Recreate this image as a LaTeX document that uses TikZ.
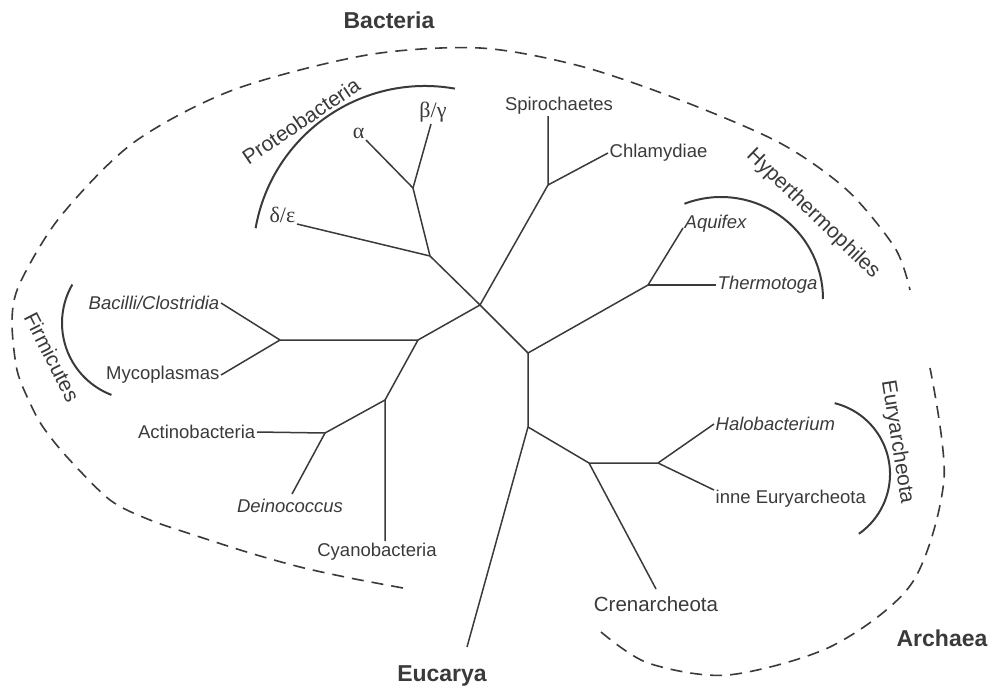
\documentclass[tikz,border=0pt]{standalone}
\usepackage{fontspec}
\setmainfont{Liberation Sans}
\newfontfamily\greekfont{Liberation Serif}
\usepackage{tikz}

\definecolor{ink}{HTML}{3A3A3A}

\tikzset{
  branch/.style={draw=ink, line width=1.5pt},
  clade/.style={draw=ink, line width=2pt},
  kingdomline/.style={draw=ink, line width=1.6pt, dash pattern=on 12pt off 8pt},
  taxon/.style={text=ink, inner sep=1.5pt, font=\fontsize{18.5}{20}\selectfont},
  genus/.style={taxon, font=\fontsize{18.5}{20}\selectfont\itshape},
  greek/.style={taxon, font=\fontsize{22}{24}\selectfont\greekfont},
  group/.style={text=ink, inner sep=0pt, font=\fontsize{21}{24}\selectfont},
  kingdom/.style={text=ink, font=\fontsize{23}{26}\selectfont\bfseries}
}

\begin{document}
\begin{tikzpicture}[x=1pt, y=-1pt]
\useasboundingbox (0,0) rectangle (995,691);

\coordinate (root) at (480,305);
\coordinate (prot) at (430,256);
\coordinate (ab) at (413,188);
\coordinate (spiro) at (548,185);
\coordinate (mid) at (528,353);
\coordinate (hyper) at (648,285);
\coordinate (arch) at (528,427);
\coordinate (crj) at (589,463);
\coordinate (eur) at (658,463);
\coordinate (gram) at (418,340);
\coordinate (firm) at (280,340);
\coordinate (cyan) at (385,400);
\coordinate (actj) at (325,433);
\coordinate (eucend) at (467,647);

\draw[kingdomline] plot[smooth] coordinates {(403,588) (350,578) (300,567) (250,553) (200,537) (150,520) (110,500) (67,457) (43,427) (30,403) (17,370) (12,320) (20,283) (60,217) (133,143) (233,90) (367,55) (480,48) (580,66) (680,100) (780,143) (847,190) (895,248) (910,290)};
\draw[kingdomline] plot[smooth] coordinates {(601,632) (648,663) (728,675) (832,646) (912,583) (944,479) (930,368)};

\draw[clade] (425,258) ++(190:172) arc[start angle=190, end angle=280, radius=172];
\draw[clade] (721,299) ++(249:102) arc[start angle=249, end angle=360, radius=102];
\draw[clade] (139,323) ++(210:77) arc[start angle=210, end angle=111, radius=77];
\draw[clade] (817,474) ++(-76:73) arc[start angle=-76, end angle=55, radius=73];

\node[greek, anchor=south east] (alpha) at (366,140) {α};
\node[greek, anchor=south] (betagamma) at (433,124) {β/γ};
\node[greek, anchor=south east] (deltaeps) at (297,224) {δ/ε};
\node[taxon, anchor=south] (spirochaetes) at (559,116) {Spirochaetes};
\node[taxon, anchor=west] (chlamydiae) at (608,153) {Chlamydiae};
\node[genus, anchor=base west] (aquifex) at (683,228) {Aquifex};
\node[genus, anchor=west] (thermotoga) at (716,285) {Thermotoga};
\node[genus, anchor=east] (bacilli) at (221,303) {Bacilli/Clostridia};
\node[taxon, anchor=east] (mycoplasmas) at (221,375) {Mycoplasmas};
\node[taxon, anchor=east] (actino) at (257,432) {Actinobacteria};
\node[genus, anchor=north] (deino) at (290,497) {Deinococcus};
\node[taxon, anchor=north] (cyano) at (377,541) {Cyanobacteria};
\node[genus, anchor=west] (halo) at (714,424) {Halobacterium};
\node[taxon, anchor=base west] (inne) at (714,503) {inne Euryarcheota};
\node[taxon, anchor=north, font=\fontsize{20.5}{22}\selectfont] (cren) at (656,595) {Crenarcheota};

\draw[branch] (root) -- (prot) -- (ab) -- (alpha.south east);
\draw[branch] (ab) -- ([xshift=-2pt]betagamma.south);
\draw[branch] (prot) -- (deltaeps.south east);
\draw[branch] (root) -- (spiro) -- (spiro |- spirochaetes.south);
\draw[branch] (spiro) -- (chlamydiae.west);
\draw[branch] (root) -- (mid) -- (hyper) -- (aquifex.base west);
\draw[branch] (hyper) -- (thermotoga.west);
\draw[branch] (mid) -- (arch) -- (eucend);
\draw[branch] (arch) -- (crj) -- (eur) -- (halo.west);
\draw[branch] (eur) -- ([yshift=13pt]inne.base west);
\draw[branch] (crj) -- ([yshift=6pt]cren.north);
\draw[branch] (root) -- (gram) -- (firm) -- (bacilli.east);
\draw[branch] (firm) -- (mycoplasmas.east);
\draw[branch] (gram) -- (cyan) -- (cyan |- cyano.north);
\draw[branch] (cyan) -- (actj) -- (actino.east);
\draw[branch] (actj) -- ([xshift=2pt,yshift=3pt]deino.north);

\node[group, rotate=34] (proteo) at (301,121) {Proteobacteria};
\node[group, rotate=-44] (hyperlab) at (813,214) {Hyperthermophiles};
\node[group, rotate=-63] (firmlab) at (52,357) {Firmicutes};
\node[group, rotate=-81] (eurylab) at (897,442) {Euryarcheota};

\node[kingdom] (bacteria) at (389,20) {Bacteria};
\node[kingdom] (archaea) at (942,638) {Archaea};
\node[kingdom] (eucarya) at (442,676) {Eucarya};
\end{tikzpicture}
\end{document}
